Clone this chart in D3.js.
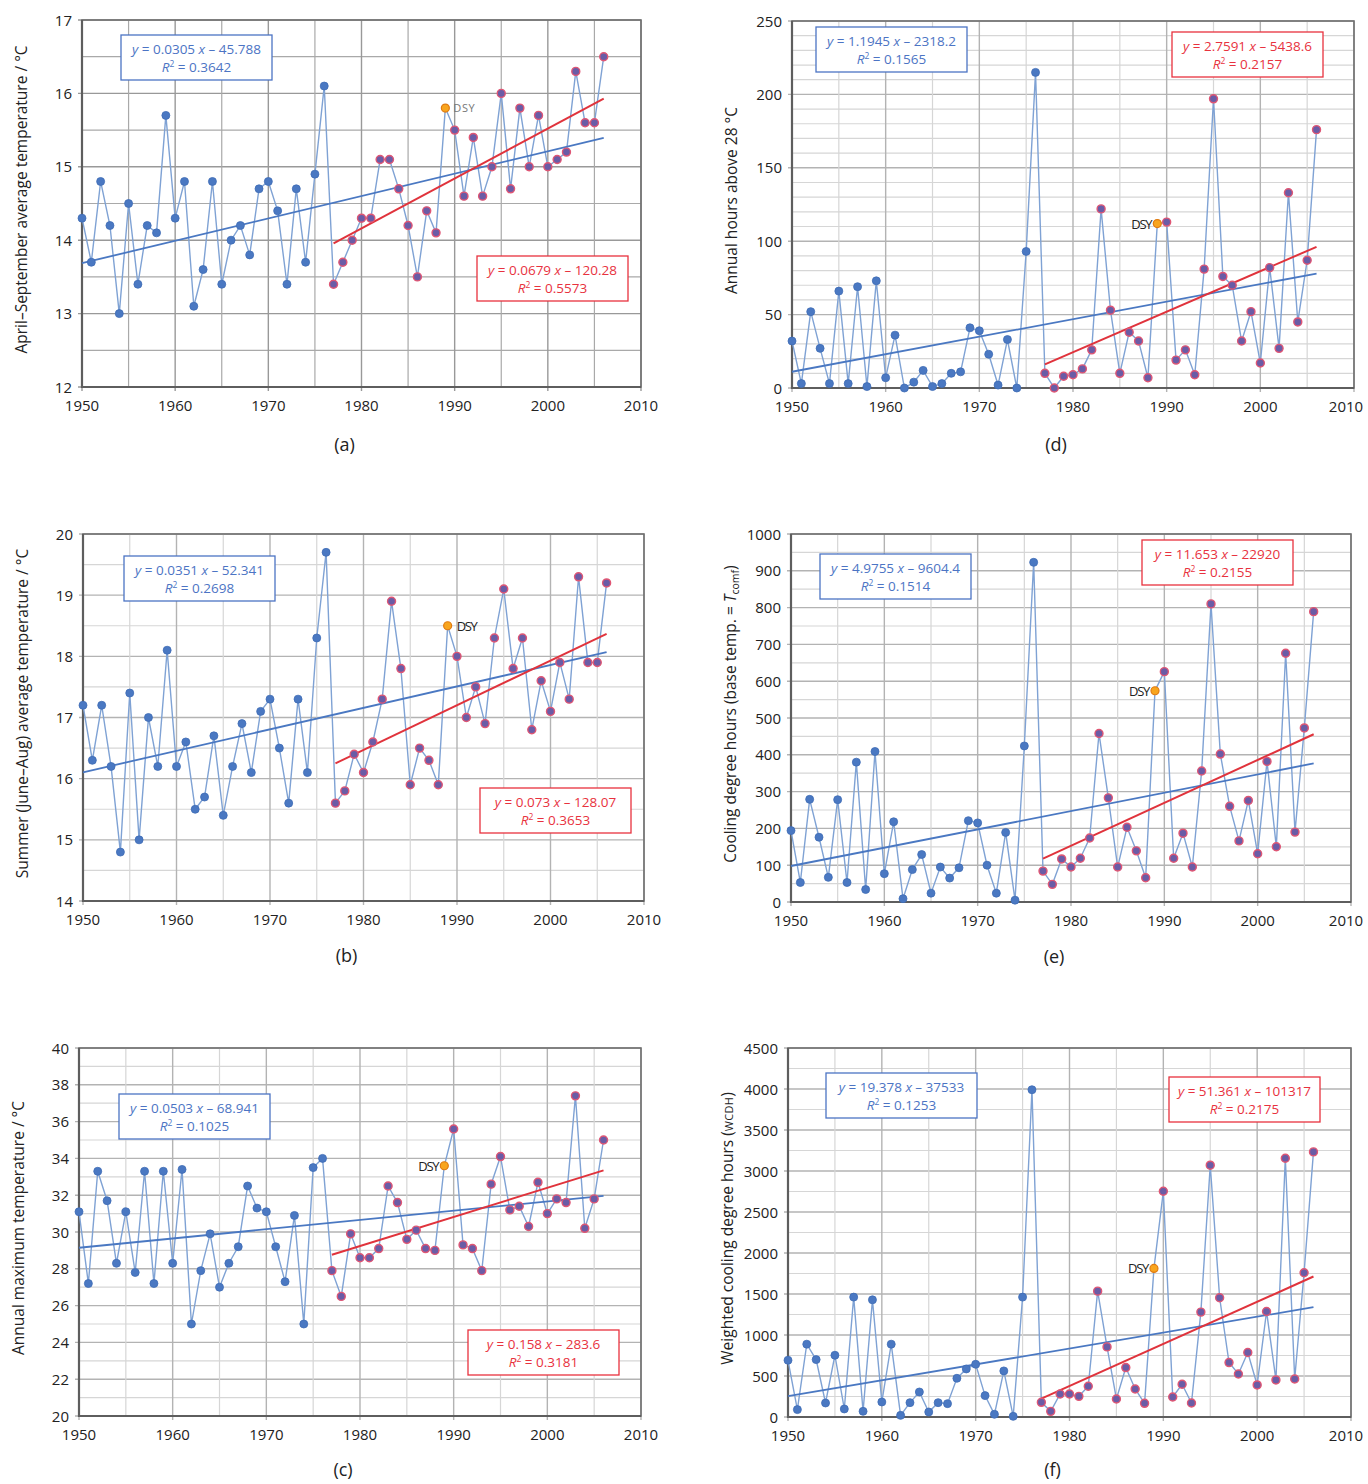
<!DOCTYPE html>
<html>
<head>
<meta charset="utf-8">
<script src="https://cdn.jsdelivr.net/npm/d3@7"></script>
<style>
  body { margin: 0; background: #fff; }
  svg { display: block; }
  text { font-family: "Open Sans", "Noto Sans", sans-serif; }
</style>
</head>
<body>
<svg id="chart" width="1368" height="1484"></svg>
<script>
// ---- Data: one value per year, 1950–2006 ----
const years = d3.range(1950, 2007);
const dsyYear = 1989;
const recentStart = 1977;

const aprSepTemp = [
  14.3, 13.7, 14.8, 14.2, 13.0, 14.5, 13.4, 14.2, 14.1, 15.7,
  14.3, 14.8, 13.1, 13.6, 14.8, 13.4, 14.0, 14.2, 13.8, 14.7,
  14.8, 14.4, 13.4, 14.7, 13.7, 14.9, 16.1, 13.4, 13.7, 14.0,
  14.3, 14.3, 15.1, 15.1, 14.7, 14.2, 13.5, 14.4, 14.1, 15.8,
  15.5, 14.6, 15.4, 14.6, 15.0, 16.0, 14.7, 15.8, 15.0, 15.7,
  15.0, 15.1, 15.2, 16.3, 15.6, 15.6, 16.5
];
const summerTemp = [
  17.2, 16.3, 17.2, 16.2, 14.8, 17.4, 15.0, 17.0, 16.2, 18.1,
  16.2, 16.6, 15.5, 15.7, 16.7, 15.4, 16.2, 16.9, 16.1, 17.1,
  17.3, 16.5, 15.6, 17.3, 16.1, 18.3, 19.7, 15.6, 15.8, 16.4,
  16.1, 16.6, 17.3, 18.9, 17.8, 15.9, 16.5, 16.3, 15.9, 18.5,
  18.0, 17.0, 17.5, 16.9, 18.3, 19.1, 17.8, 18.3, 16.8, 17.6,
  17.1, 17.9, 17.3, 19.3, 17.9, 17.9, 19.2
];
const annualMaxTemp = [
  31.1, 27.2, 33.3, 31.7, 28.3, 31.1, 27.8, 33.3, 27.2, 33.3,
  28.3, 33.4, 25.0, 27.9, 29.9, 27.0, 28.3, 29.2, 32.5, 31.3,
  31.1, 29.2, 27.3, 30.9, 25.0, 33.5, 34.0, 27.9, 26.5, 29.9,
  28.6, 28.6, 29.1, 32.5, 31.6, 29.6, 30.1, 29.1, 29.0, 33.6,
  35.6, 29.3, 29.1, 27.9, 32.6, 34.1, 31.2, 31.4, 30.3, 32.7,
  31.0, 31.8, 31.6, 37.4, 30.2, 31.8, 35.0
];
const hoursAbove28 = [
  32, 3, 52, 27, 3, 66, 3, 69, 1, 73,
  7, 36, 0, 4, 12, 1, 3, 10, 11, 41,
  39, 23, 2, 33, 0, 93, 215, 10, 0, 8,
  9, 13, 26, 122, 53, 10, 38, 32, 7, 112,
  113, 19, 26, 9, 81, 197, 76, 70, 32, 52,
  17, 82, 27, 133, 45, 87, 176
];
const coolingDegreeHours = [
  194, 53, 279, 176, 67, 278, 53, 380, 34, 409,
  77, 218, 9, 88, 129, 24, 95, 65, 93, 221,
  215, 100, 24, 189, 5, 424, 923, 84, 48, 117,
  95, 119, 174, 458, 283, 95, 203, 139, 66, 574,
  626, 119, 187, 95, 356, 810, 402, 260, 166, 276,
  131, 382, 150, 676, 190, 473, 789
];
const weightedCDH = [
  692, 90, 888, 700, 171, 753, 98, 1462, 69, 1429,
  183, 888, 20, 175, 305, 61, 175, 163, 472, 586,
  643, 261, 33, 562, 8, 1462, 3991, 179, 69, 281,
  281, 252, 375, 1535, 855, 220, 603, 342, 167, 1812,
  2753, 244, 399, 171, 1279, 3071, 1454, 664, 525, 786,
  391, 1287, 452, 3156, 464, 1759, 3233
];

// Linear fits [slope, intercept, R²], panels a–f
const fitAllYears = [
  [0.0305, -45.788, 0.3642],
  [0.0351, -52.341, 0.2698],
  [0.0503, -68.941, 0.1025],
  [1.1945, -2318.2, 0.1565],
  [4.9755, -9604.4, 0.1514],
  [19.378, -37533, 0.1253]
];
const fitSince1977 = [
  [0.0679, -120.28, 0.5573],
  [0.073, -128.07, 0.3653],
  [0.158, -283.6, 0.3181],
  [2.7591, -5438.6, 0.2157],
  [11.653, -22920, 0.2155],
  [51.361, -101317, 0.2175]
];

// Axis ticks
const yearTicks = [1950, 1960, 1970, 1980, 1990, 2000, 2010];
const ticksA = [12, 13, 14, 15, 16, 17];
const ticksB = [14, 15, 16, 17, 18, 19, 20];
const ticksC = [20, 22, 24, 26, 28, 30, 32, 34, 36, 38, 40];
const ticksD = [0, 50, 100, 150, 200, 250];
const ticksE = [0, 100, 200, 300, 400, 500, 600, 700, 800, 900, 1000];
const ticksF = [0, 500, 1000, 1500, 2000, 2500, 3000, 3500, 4000, 4500];

// ---- Panel layout ----
const panels = [
  { label: "(a)", values: aprSepTemp, ticks: ticksA, minor: 0.5, fit: 0,
    frame: { l: 82, r: 641, t: 20, b: 387 }, cap: 64,
    title: [{ t: "April–September average temperature / °C" }],
    eqAll: [121, 35], eqRecent: [477, 256], dsy: "right-light", dark: true },
  { label: "(b)", values: summerTemp, ticks: ticksB, minor: 0.5, fit: 1,
    frame: { l: 83, r: 644, t: 534, b: 901 }, cap: 61,
    title: [{ t: "Summer (June–Aug) average temperature / °C" }],
    eqAll: [124, 556], eqRecent: [480, 788], dsy: "right" },
  { label: "(c)", values: annualMaxTemp, ticks: ticksC, minor: 1, fit: 2,
    frame: { l: 79, r: 641, t: 1048, b: 1416 }, cap: 60,
    title: [{ t: "Annual maximum temperature / °C" }],
    eqAll: [119, 1094], eqRecent: [468, 1330], dsy: "left" },
  { label: "(d)", values: hoursAbove28, ticks: ticksD, minor: 10, fit: 3,
    frame: { l: 792, r: 1354, t: 21, b: 388 }, cap: 63,
    title: [{ t: "Annual hours above 28 °C" }],
    eqAll: [816, 27], eqRecent: [1172, 32], dsy: "left" },
  { label: "(e)", values: coolingDegreeHours, ticks: ticksE, minor: 50, fit: 4,
    frame: { l: 791, r: 1351, t: 534, b: 902 }, cap: 61,
    title: [{ t: "Cooling degree hours (base temp. = " },
            { t: "T", italic: true }, { t: "comf", sub: true }, { t: ")", back: true }],
    eqAll: [820, 554], eqRecent: [1142, 540], dsy: "left" },
  { label: "(f)", values: weightedCDH, ticks: ticksF, minor: 250, fit: 5,
    frame: { l: 788, r: 1351, t: 1048, b: 1417 }, cap: 59,
    title: [{ t: "Weighted cooling degree hours (" }, { t: "WCDH", small: true }, { t: ")" }],
    eqAll: [826, 1073], eqRecent: [1169, 1077], dsy: "left" }
];

const BLUE = "#4a78c2";
const LINK = "#7fa2d4";
const RED = "#e0333c";
const EQ_BLUE = "#4c74c4";
const EQ_RED = "#e8323e";
const PAGE_W = 1368;

const svg = d3.select("#chart");

function drawEquation(g, pos, fit, color) {
  const [x0, y0] = pos;
  const w = 151, h = 45;
  g.append("rect").attr("x", x0).attr("y", y0).attr("width", w).attr("height", h)
    .attr("fill", "#fff").attr("stroke", color).attr("stroke-width", 1.3);
  const cx = x0 + w / 2;
  const t1 = g.append("text").attr("x", cx).attr("y", y0 + 19)
    .attr("text-anchor", "middle").attr("font-size", 13.5).attr("fill", color);
  t1.append("tspan").attr("font-style", "italic").text("y");
  t1.append("tspan").text(" = " + String(fit[0]) + " ");
  t1.append("tspan").attr("font-style", "italic").text("x");
  t1.append("tspan").text(" – " + String(Math.abs(fit[1])));
  const t2 = g.append("text").attr("x", cx).attr("y", y0 + 37)
    .attr("text-anchor", "middle").attr("font-size", 13.5).attr("fill", color);
  t2.append("tspan").attr("font-style", "italic").text("R");
  t2.append("tspan").attr("font-size", 8.5).attr("dy", -5).text("2");
  t2.append("tspan").attr("dy", 5).text(" = " + String(fit[2]));
}

panels.forEach(p => {
  const f = p.frame;
  const g = svg.append("g");
  const x = d3.scaleLinear().domain([1950, 2010]).range([f.l, f.r]);
  const yMin = p.ticks[0], yMax = p.ticks[p.ticks.length - 1];
  const y = d3.scaleLinear().domain([yMin, yMax]).range([f.b, f.t]);

  const minorCol = p.dark ? "#a9a9a9" : "#d6d6d6";
  const majorCol = p.dark ? "#999" : "#b3b3b3";

  // horizontal grid
  const minorVals = d3.range(yMin, yMax + 1e-9, p.minor)
    .filter(v => !p.ticks.some(t => Math.abs(t - v) < 1e-9));
  g.selectAll(null).data(minorVals).join("line")
    .attr("x1", f.l).attr("x2", f.r).attr("y1", d => y(d)).attr("y2", d => y(d))
    .attr("stroke", minorCol).attr("stroke-width", 1.2);
  g.selectAll(null).data(p.ticks).join("line")
    .attr("x1", f.l - 4).attr("x2", f.r).attr("y1", d => y(d)).attr("y2", d => y(d))
    .attr("stroke", majorCol).attr("stroke-width", 1.4);

  // vertical grid: every 5 years, darker at decades
  const halfDecades = [1955, 1965, 1975, 1985, 1995, 2005];
  g.selectAll(null).data(halfDecades).join("line")
    .attr("x1", d => x(d)).attr("x2", d => x(d)).attr("y1", f.t).attr("y2", f.b)
    .attr("stroke", minorCol).attr("stroke-width", 1.2);
  g.selectAll(null).data(yearTicks).join("line")
    .attr("x1", d => x(d)).attr("x2", d => x(d)).attr("y1", f.t).attr("y2", f.b + 4)
    .attr("stroke", majorCol).attr("stroke-width", 1.4);

  // frame
  g.append("rect").attr("x", f.l).attr("y", f.t).attr("width", f.r - f.l).attr("height", f.b - f.t)
    .attr("fill", "none").attr("stroke", "#707070").attr("stroke-width", 1.6);
  g.append("path").attr("d", `M${f.l},${f.t}V${f.b}H${f.r}`)
    .attr("fill", "none").attr("stroke", "#5e5e5e").attr("stroke-width", 2.2);

  // tick labels
  g.selectAll(null).data(p.ticks).join("text")
    .attr("x", f.l - 10).attr("y", d => y(d) + 5.5)
    .attr("text-anchor", "end").attr("font-size", 15).attr("fill", "#222")
    .text(d => d);
  g.selectAll(null).data(yearTicks).join("text")
    .attr("x", d => Math.min(x(d), PAGE_W - 22)).attr("y", f.b + 24)
    .attr("text-anchor", "middle").attr("font-size", 15).attr("fill", "#222")
    .text(d => d);

  // caption
  g.append("text").attr("x", (f.l + f.r) / 2 - 17).attr("y", f.b + p.cap)
    .attr("text-anchor", "middle").attr("font-size", 18).attr("fill", "#222").text(p.label);

  // axis title
  const ty = (f.t + f.b) / 2 - 4;
  const title = g.append("text")
    .attr("transform", `translate(${f.l - 55},${ty}) rotate(-90)`)
    .attr("text-anchor", "middle").attr("font-size", 15.5).attr("fill", "#222");
  p.title.forEach(part => {
    const s = title.append("tspan").text(part.t);
    if (part.italic) s.attr("font-style", "italic");
    if (part.sub) s.attr("font-size", 10.5).attr("dy", 3);
    if (part.back) s.attr("dy", -3);
    if (part.small) s.attr("font-size", 11).attr("letter-spacing", 0.3);
  });

  // series
  const pts = years.map((yr, i) => ({ yr, v: p.values[i] }));
  const line = d3.line().x(d => x(d.yr)).y(d => y(d.v));
  g.append("path").datum(pts).attr("d", line)
    .attr("fill", "none").attr("stroke", LINK).attr("stroke-width", 1.4);

  // fitted lines
  const fa = fitAllYears[p.fit], fr = fitSince1977[p.fit];
  const lastYear = years[years.length - 1];
  g.append("line")
    .attr("x1", x(1950)).attr("y1", y(fa[0] * 1950 + fa[1]))
    .attr("x2", x(lastYear)).attr("y2", y(fa[0] * lastYear + fa[1]))
    .attr("stroke", BLUE).attr("stroke-width", 1.8);
  g.append("line")
    .attr("x1", x(recentStart)).attr("y1", y(fr[0] * recentStart + fr[1]))
    .attr("x2", x(lastYear)).attr("y2", y(fr[0] * lastYear + fr[1]))
    .attr("stroke", RED).attr("stroke-width", 2);

  // markers
  const early = pts.filter(d => d.yr < recentStart);
  const late = pts.filter(d => d.yr >= recentStart && d.yr !== dsyYear);
  const dsy = pts.find(d => d.yr === dsyYear);
  g.selectAll(null).data(early).join("circle")
    .attr("cx", d => x(d.yr)).attr("cy", d => y(d.v)).attr("r", 4)
    .attr("fill", BLUE).attr("stroke", "#3f6cb5").attr("stroke-width", 0.8);
  g.selectAll(null).data(late).join("circle")
    .attr("cx", d => x(d.yr)).attr("cy", d => y(d.v)).attr("r", 4)
    .attr("fill", "#6a5ca6").attr("stroke", "#e05674").attr("stroke-width", 1.4);
  g.append("circle").attr("cx", x(dsy.yr)).attr("cy", y(dsy.v)).attr("r", 4)
    .attr("fill", "#f8a51e").attr("stroke", "#e07b12").attr("stroke-width", 1.2);

  // DSY label
  const lbl = g.append("text").text("DSY");
  if (p.dsy === "right-light") {
    lbl.attr("x", x(dsy.yr) + 8).attr("y", y(dsy.v) + 4)
      .attr("font-size", 11).attr("fill", "#777").attr("letter-spacing", 0.6);
  } else if (p.dsy === "right") {
    lbl.attr("x", x(dsy.yr) + 9).attr("y", y(dsy.v) + 5)
      .attr("font-family", "'Liberation Sans', Arial, sans-serif")
      .attr("font-size", 13).attr("fill", "#222").attr("letter-spacing", -1.3);
  } else {
    lbl.attr("x", x(dsy.yr) - 6).attr("y", y(dsy.v) + 5).attr("text-anchor", "end")
      .attr("font-family", "'Liberation Sans', Arial, sans-serif")
      .attr("font-size", 13).attr("fill", "#222").attr("letter-spacing", -1.3);
  }

  // equation boxes
  drawEquation(g, p.eqAll, fa, EQ_BLUE);
  drawEquation(g, p.eqRecent, fr, EQ_RED);
});
</script>
</body>
</html>
